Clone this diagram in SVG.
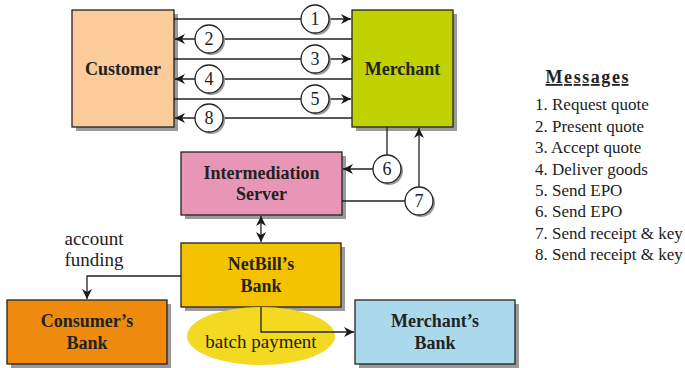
<svg xmlns="http://www.w3.org/2000/svg" width="685" height="368" viewBox="0 0 685 368">
<defs>
<marker id="ah" viewBox="0 0 10 10" refX="10" refY="5" markerWidth="10" markerHeight="10" markerUnits="userSpaceOnUse" orient="auto-start-reverse">
<path d="M0,0 L10,5 L0,10 L3,5 Z" fill="#1a1a1a"/>
</marker>
</defs>
<style>
.box{stroke:#222;stroke-width:1.3}
.sh{fill:#9a9a9a}
.lbl{font-family:"Liberation Serif",serif;font-weight:bold;font-size:18px;fill:#222;text-anchor:middle}
.t{font-family:"Liberation Serif",serif;font-size:17px;fill:#222}
.t2{font-family:"Liberation Serif",serif;font-size:19px;fill:#222;text-anchor:middle}
.c{fill:#fff;stroke:#222;stroke-width:1.3}
.cs{fill:#9a9a9a}
.cn{font-family:"Liberation Serif",serif;font-size:18px;fill:#222;text-anchor:middle}
.ln{fill:none;stroke:#222;stroke-width:1.3}
</style>
<g id="customer">
<rect class="sh" x="76" y="14" width="102" height="117"/>
<rect class="box" x="72" y="10" width="102" height="117" fill="#FBCB9A"/>
<text class="lbl" x="123" y="75">Customer</text>
</g>
<g id="merchant">
<rect class="sh" x="356" y="14" width="101" height="117"/>
<rect class="box" x="352" y="10" width="101" height="117" fill="#BFD200"/>
<text class="lbl" x="402.5" y="75">Merchant</text>
</g>
<g id="server">
<rect class="sh" x="185" y="156" width="161" height="63"/>
<rect class="box" x="181" y="152" width="161" height="63" fill="#E896B6"/>
<text class="lbl" x="261.5" y="179">Intermediation</text>
<text class="lbl" x="261.5" y="200">Server</text>
</g>
<g id="netbill">
<rect class="sh" x="185" y="247" width="160" height="64"/>
<rect class="box" x="181" y="243" width="160" height="64" fill="#F5C200"/>
<text class="lbl" x="261" y="270">NetBill’s</text>
<text class="lbl" x="261" y="292">Bank</text>
</g>
<g id="consumerbank">
<rect class="sh" x="11" y="304" width="160" height="64"/>
<rect class="box" x="7" y="300" width="160" height="64" fill="#EE8A0E"/>
<text class="lbl" x="87" y="327">Consumer’s</text>
<text class="lbl" x="87" y="349">Bank</text>
</g>
<g id="batch">
<ellipse cx="261" cy="336" rx="74" ry="29" fill="#F3D922"/>
<text class="t2" x="261" y="348">batch payment</text>
</g>
<g id="merchantbank">
<rect class="sh" x="359" y="304" width="160" height="64"/>
<rect class="box" x="355" y="300" width="160" height="64" fill="#A9D9EB"/>
<text class="lbl" x="435" y="327">Merchant’s</text>
<text class="lbl" x="435" y="349">Bank</text>
</g>
<g id="connectors">
<line class="ln" x1="174" y1="19" x2="351" y2="19" marker-end="url(#ah)"/>
<line class="ln" x1="352" y1="39" x2="175" y2="39" marker-end="url(#ah)"/>
<line class="ln" x1="174" y1="59" x2="351" y2="59" marker-end="url(#ah)"/>
<line class="ln" x1="352" y1="79" x2="175" y2="79" marker-end="url(#ah)"/>
<line class="ln" x1="174" y1="99" x2="351" y2="99" marker-end="url(#ah)"/>
<line class="ln" x1="352" y1="118" x2="175" y2="118" marker-end="url(#ah)"/>
<polyline class="ln" points="387,127 387,169 343,169" marker-end="url(#ah)"/>
<polyline class="ln" points="342,201 419,201 419,128" marker-end="url(#ah)"/>
<line class="ln" x1="261" y1="216" x2="261" y2="242" marker-start="url(#ah)" marker-end="url(#ah)"/>
<polyline class="ln" points="181,276 87,276 87,299" marker-end="url(#ah)"/>
<polyline class="ln" points="261,307 261,332 354,332" marker-end="url(#ah)"/>
</g>
<g id="circles">
<circle class="cs" cx="317" cy="21" r="14"/><circle class="c" cx="315" cy="19" r="14"/><text class="cn" x="315" y="25">1</text>
<circle class="cs" cx="211" cy="41" r="14"/><circle class="c" cx="209" cy="39" r="14"/><text class="cn" x="209" y="45">2</text>
<circle class="cs" cx="317" cy="61" r="14"/><circle class="c" cx="315" cy="59" r="14"/><text class="cn" x="315" y="65">3</text>
<circle class="cs" cx="211" cy="81" r="14"/><circle class="c" cx="209" cy="79" r="14"/><text class="cn" x="209" y="85">4</text>
<circle class="cs" cx="317" cy="101" r="14"/><circle class="c" cx="315" cy="99" r="14"/><text class="cn" x="315" y="105">5</text>
<circle class="cs" cx="211" cy="120" r="14"/><circle class="c" cx="209" cy="118" r="14"/><text class="cn" x="209" y="124">8</text>
<circle class="cs" cx="389" cy="171" r="14"/><circle class="c" cx="387" cy="169" r="14"/><text class="cn" x="387" y="175">6</text>
<circle class="cs" cx="421" cy="203" r="14"/><circle class="c" cx="419" cy="201" r="14"/><text class="cn" x="419" y="207">7</text>
</g>
<g id="labels">
<text class="t2" x="94" y="245">account</text>
<text class="t2" x="94" y="266">funding</text>
</g>
<g id="messages">
<text class="lbl" x="587" y="83" font-size="19" text-decoration="underline" textLength="83" lengthAdjust="spacing">Messages</text>
<text class="t" x="535" y="110">1. Request quote</text>
<text class="t" x="535" y="132">2. Present quote</text>
<text class="t" x="535" y="153">3. Accept quote</text>
<text class="t" x="535" y="175">4. Deliver goods</text>
<text class="t" x="535" y="196">5. Send EPO</text>
<text class="t" x="535" y="217">6. Send EPO</text>
<text class="t" x="535" y="239">7. Send receipt &amp; key</text>
<text class="t" x="535" y="260">8. Send receipt &amp; key</text>
</g>
</svg>
